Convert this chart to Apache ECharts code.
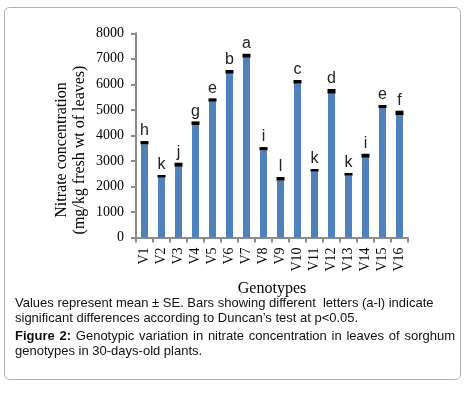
<!DOCTYPE html>
<html><head><meta charset="utf-8">
<script src="https://cdn.jsdelivr.net/npm/echarts@6/dist/echarts.min.js"></script>
<style>
html,body{margin:0;padding:0;background:#fff}
#wrap{position:relative;width:471px;height:393px}
#c{position:absolute;left:0;top:0;width:471px;height:393px}
.cap{position:absolute;left:15px;width:440px;font-family:"Liberation Sans",Arial,sans-serif;font-size:13px;line-height:15px;color:#111}
#cap1{top:295px}
#cap2{top:328px;text-align:justify}
</style>
</head><body><div id="wrap"><div id="c"></div>
<div class="cap" id="cap1">Values represent mean ± SE. Bars showing different&nbsp; letters (a-l) indicate<br>significant differences according to Duncan’s test at p&lt;0.05.</div>
<div class="cap" id="cap2"><b>Figure 2:</b> Genotypic variation in nitrate concentration in leaves of sorghum genotypes in 30-days-old plants.</div>
</div>
<script>
const categories = ['V1','V2','V3','V4','V5','V6','V7','V8','V9','V10','V11','V12','V13','V14','V15','V16'];
const meanValues = [3713,2397,2852,4477,5386,6490,7121,3478,2299,6099,2632,5727,2475,3204,5131,4884];
const seValues = [65,52,78,72,65,72,78,65,72,72,52,91,52,78,59,85];
const letters = ['h','k','j','g','e','b','a','i','l','c','k','d','k','i','e','f'];
const yTicks = {min:0, max:8000, interval:1000};

const chart = echarts.init(document.getElementById('c'), null, {renderer:'canvas'});
const serif = '"Liberation Serif", "Times New Roman", serif';
const sans = '"Liberation Sans", Arial, sans-serif';
const blueData = meanValues.map((m,i)=>m - seValues[i]);
const errData = meanValues.map((m,i)=>[i, m - seValues[i], m + seValues[i]]);

chart.setOption({
  animation:false,
  backgroundColor:'transparent',
  grid:{left:136, right:63, top:33.3, bottom:155.5, containLabel:false},
  xAxis:{type:'category', data:categories,
    axisLine:{lineStyle:{color:'#8c8c8c', width:2}},
    axisTick:{show:true, length:5, lineStyle:{color:'#8c8c8c', width:2}},
    axisLabel:{rotate:90, margin:10, color:'#000', fontFamily:serif, fontSize:14, interval:0},
    name:'Genotypes', nameLocation:'middle', nameGap:43,
    nameTextStyle:{fontFamily:serif, fontSize:16, color:'#000'}
  },
  yAxis:{type:'value', min:yTicks.min, max:yTicks.max, interval:yTicks.interval,
    splitLine:{show:false},
    axisLine:{show:true, lineStyle:{color:'#8c8c8c', width:2}},
    axisTick:{show:true, length:5, lineStyle:{color:'#8c8c8c', width:2}},
    axisLabel:{margin:12, color:'#000', fontFamily:serif, fontSize:14, formatter:function(v){return String(v);}}
  },
  series:[
    {type:'bar', data:blueData, barWidth:7, itemStyle:{color:'#4f81bd'}, z:2},
    {type:'custom', data:errData, z:3,
      renderItem:function(params, api){
        const x = api.coord([api.value(0), 0])[0];
        const yLo = api.coord([api.value(0), api.value(1)])[1];
        const yHi = api.coord([api.value(0), api.value(2)])[1];
        const w = 8;
        return {type:'group', children:[
          {type:'rect', shape:{x:x - w/2, y:yHi, width:w, height:yLo - yHi}, style:{fill:'#000'}},
          {type:'text', style:{text:letters[params.dataIndex], x:x, y:yHi - 2, align:'center', verticalAlign:'bottom',
            fill:'#222', font:'16px ' + sans}}
        ]};
      }
    }
  ],
  graphic:[
    {type:'rect', shape:{x:4.5, y:7.5, width:456, height:372, r:5}, style:{fill:'none', stroke:'#b0b0b0', lineWidth:1}, z:-1},
    {type:'text', x:62, y:150, rotation:Math.PI/2, style:{text:'Nitrate concentration', align:'center', verticalAlign:'middle', font:'16px ' + serif, fill:'#000'}},
    {type:'text', x:80, y:150, rotation:Math.PI/2, style:{text:'(mg/kg fresh wt of leaves)', align:'center', verticalAlign:'middle', font:'16px ' + serif, fill:'#000'}}
  ]
});
</script></body></html>
